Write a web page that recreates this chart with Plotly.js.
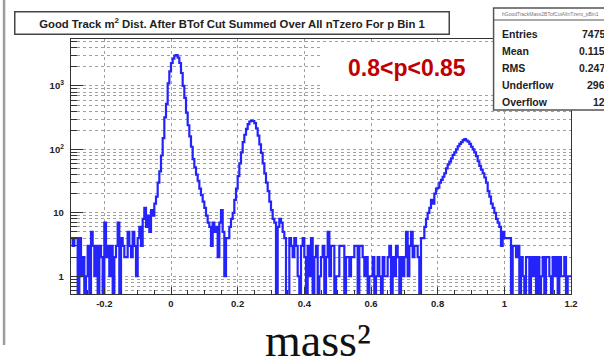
<!DOCTYPE html>
<html>
<head>
<meta charset="utf-8">
<script src="https://cdn.plot.ly/plotly-3.0.1.min.js"></script>
<style>
html,body{margin:0;padding:0;background:#fff;}
#chart{width:604px;height:364px;}
</style>
</head>
<body>
<div id="chart"></div>
<script>
// ---- data ----
const binStart = -0.3;
const binEnd = 1.2;
const binWidth = 0.005;
const counts = [
  4,3,4,4,0,4,1,2,0,1,
  3,0,5,3,1,3,0,3,2,0,
  7,2,3,1,3,0,2,3,7,0,
  4,3,2,2,5,3,2,5,3,1,
  4,6,3,8,12,6,9,5,11,9,
  14,18,30,45,80,150,320,520,1100,1700,
  2300,2700,3000,3050,2800,2300,1600,1000,650,380,
  240,160,110,70,52,40,32,24,19,15,
  12,9,7,6,3,7,5,6,2,7,
  11,5,1,4,4,6,8,10,16,24,
  38,60,90,130,170,210,250,275,285,280,
  260,215,165,120,88,60,42,30,22,15,
  11,8,7,0,6,8,7,5,4,0,
  0,4,3,2,4,3,1,0,3,4,
  2,0,3,1,4,0,2,3,0,1,
  2,3,0,2,5,1,3,3,0,1,
  1,3,3,3,0,2,2,1,2,2,
  3,3,0,3,3,2,1,2,0,1,
  1,2,0,1,2,1,0,2,1,1,
  2,3,0,2,1,3,2,0,2,1,
  2,5,1,3,5,2,3,3,2,0,
  4,4,6,8,10,12,16,14,20,24,
  25,30,33,37,42,50,58,64,72,82,
  90,100,112,122,130,140,145,138,132,122,
  110,100,90,78,65,55,48,42,36,30,
  22,18,14,12,10,8,7,6,3,5,
  4,4,4,4,0,3,3,2,3,0,
  2,1,0,2,2,0,2,1,2,0,
  2,0,1,2,0,2,2,1,0,2,
  1,2,0,2,1,1,2,0,1,1
];
const xTickVals = [-0.2, 0, 0.2, 0.4, 0.6, 0.8, 1, 1.2];
const xTickText = ['-0.2', '0', '0.2', '0.4', '0.6', '0.8', '1', '1.2'];
const yTickVals = [1, 10, 100, 1000];
const yTickText = ['1', '10', '10<sup>2</sup>', '10<sup>3</sup>'];
const statLabels = ['Entries', 'Mean', 'RMS', 'Underflow', 'Overflow'];
const statValues = ['74759', '0.1153', '0.2473', '2968', '123'];
const titleText = 'Good Track m<sup>2</sup> Dist. After BTof Cut Summed Over All nTzero For p Bin 1';
const momentumLabel = '0.8&lt;p&lt;0.85';
const xTitle = 'mass²';

// ---- build step outline ----
const xs = counts.map((c, i) => +(binStart + i * binWidth).toFixed(4));
xs.push(binEnd);
const ys = counts.map(c => (c > 0 ? c : 0.2));
ys.push(ys[ys.length - 1]);

// ---- geometry helpers (pixel -> paper) ----
const L = 71, T = 39, W = 500.5, H = 255;
const px = p => (p - L) / W;
const py = p => (T + H - p) / H;

const gridCol = '#a0a0a0';
const sans = 'Liberation Sans, Arial, sans-serif';

const trace = {
  x: xs, y: ys, type: 'scatter', mode: 'lines',
  line: {shape: 'hv', color: 'rgb(35,35,250)', width: 2.2},
  hoverinfo: 'skip', showlegend: false
};

const shapes = [
  // left frame line
  {type: 'line', xref: 'paper', yref: 'paper', x0: px(4), x1: px(4), y0: py(0), y1: py(345),
   line: {color: '#9c9c9c', width: 2.5}},
  // momentum label box
  {type: 'rect', xref: 'paper', yref: 'paper', x0: px(323), x1: px(495), y0: py(95), y1: py(43),
   fillcolor: '#ffffff', line: {width: 0}, layer: 'above'},
  // stats box
  {type: 'rect', xref: 'paper', yref: 'paper', x0: px(494), x1: px(680), y0: py(110), y1: py(8),
   fillcolor: '#ffffff', line: {color: '#555', width: 1.5}, layer: 'above'},
  {type: 'line', xref: 'paper', yref: 'paper', x0: px(494), x1: px(680), y0: py(20), y1: py(20),
   line: {color: '#555', width: 1}, layer: 'above'}
];

const annotations = [
  {xref: 'paper', yref: 'paper', x: px(232.5), y: py(22.5), xanchor: 'center', yanchor: 'middle',
   text: '<b>' + titleText + '</b>', showarrow: false, width: 433, height: 21,
   bordercolor: '#444', borderwidth: 1.5, borderpad: 0, bgcolor: '#fff',
   font: {family: sans, size: 11.3, color: '#222'}},
  {xref: 'paper', yref: 'paper', x: px(407), y: py(68), xanchor: 'center', yanchor: 'middle',
   text: '<b>' + momentumLabel + '</b>', showarrow: false,
   font: {family: sans, size: 23, color: '#c00000'}},
  {xref: 'paper', yref: 'paper', x: px(318), y: py(340), xanchor: 'center', yanchor: 'middle',
   text: xTitle, showarrow: false,
   font: {family: 'Liberation Serif, DejaVu Serif, serif', size: 46, color: '#111'}},
  {xref: 'paper', yref: 'paper', x: px(500), y: py(14.5), xanchor: 'left', yanchor: 'middle',
   text: 'hGoodTrackMass2BTofCutAllnTzero_pBin1', showarrow: false,
   font: {family: sans, size: 5, color: '#777'}}
];
const rowY = [34.3, 51, 67.7, 85, 101.7];
statLabels.forEach((s, i) => {
  annotations.push({xref: 'paper', yref: 'paper', x: px(500), y: py(rowY[i]), xanchor: 'left', yanchor: 'middle',
    text: '<b>' + s + '</b>', showarrow: false, font: {family: sans, size: 10.5, color: '#222'}});
  annotations.push({xref: 'paper', yref: 'paper', x: px(614), y: py(rowY[i]), xanchor: 'right', yanchor: 'middle',
    text: '<b>' + statValues[i] + '</b>', showarrow: false, font: {family: sans, size: 10.5, color: '#222'}});
});

const layout = {
  width: 604, height: 364,
  margin: {l: L, r: 604 - L - W, t: T, b: 364 - T - H, pad: 0},
  paper_bgcolor: '#fff', plot_bgcolor: '#fff', showlegend: false,
  xaxis: {
    range: [binStart, binEnd], tickmode: 'array', tickvals: xTickVals, ticktext: xTickText,
    showgrid: true, gridcolor: gridCol, griddash: 'dot', gridwidth: 1, zeroline: false,
    ticks: 'inside', ticklen: 7, tickcolor: '#333', tickwidth: 1,
    minor: {ticks: 'inside', ticklen: 4, dtick: 0.05, tick0: 0, tickcolor: '#333', showgrid: false},
    showline: true, mirror: true, linecolor: '#333', linewidth: 1.2,
    tickfont: {family: sans, size: 9.5, color: '#222', weight: 'bold'},
    automargin: false, fixedrange: true
  },
  yaxis: {
    type: 'log', range: [-0.28, 3.74], tickmode: 'array', tickvals: yTickVals, ticktext: yTickText,
    showgrid: true, gridcolor: gridCol, griddash: 'dot', gridwidth: 1, zeroline: false,
    ticks: 'inside', ticklen: 12, tickcolor: '#333', tickwidth: 1,
    minor: {ticks: 'inside', ticklen: 6, dtick: 'D1', tickcolor: '#333', showgrid: true,
            gridcolor: gridCol, griddash: 'dot', gridwidth: 1},
    showline: true, mirror: true, linecolor: '#333', linewidth: 1.2,
    tickfont: {family: sans, size: 9.5, color: '#222', weight: 'bold'},
    ticklabelstandoff: 4,
    automargin: false, fixedrange: true
  },
  shapes: shapes,
  annotations: annotations
};

Plotly.newPlot('chart', [trace], layout, {staticPlot: true, displayModeBar: false});
</script>
</body>
</html>
